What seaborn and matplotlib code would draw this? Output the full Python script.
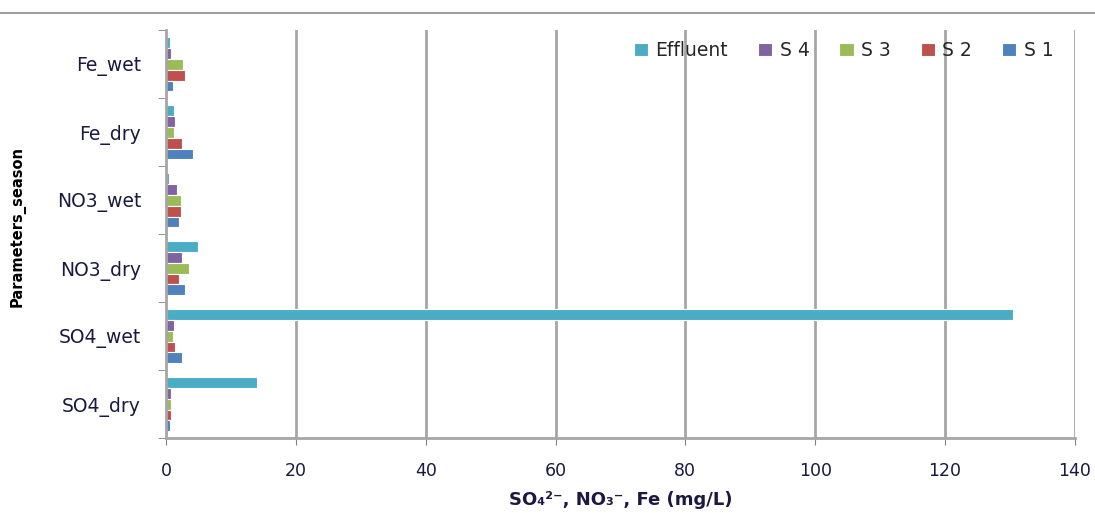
import numpy as np
import pandas as pd
import matplotlib
matplotlib.use('Agg')
import matplotlib.pyplot as plt
import seaborn as sns

# Data (mg/L)
params = ['Fe_wet', 'Fe_dry', 'NO3_wet', 'NO3_dry', 'SO4_wet', 'SO4_dry']
sites = ['Effluent', 'S 4', 'S 3', 'S 2', 'S 1']
effluent = [0.6, 1.3, 0.5, 4.9, 130.5, 14.0]
s4 = [0.7, 1.4, 1.7, 2.5, 1.3, 0.8]
s3 = [2.6, 1.2, 2.3, 3.5, 1.1, 0.8]
s2 = [2.9, 2.5, 2.3, 2.0, 1.4, 0.8]
s1 = [1.1, 4.2, 2.0, 2.9, 2.5, 0.6]
colors = ['#4BACC6', '#8064A2', '#9BBB59', '#C0504D', '#4F81BD']

df = pd.DataFrame({'Parameter': params, 'Effluent': effluent, 'S 4': s4,
                   'S 3': s3, 'S 2': s2, 'S 1': s1})
long_df = df.melt(id_vars='Parameter', var_name='Site', value_name='Value')

sns.set_style('white')
plt.rcParams['font.family'] = ['DejaVu Sans']

fig = plt.figure(figsize=(10.95, 5.13), dpi=100)
ax = fig.add_axes([0.1516, 0.146, 0.830, 0.795])

sns.barplot(data=long_df, x='Value', y='Parameter', hue='Site', order=params,
            hue_order=sites, palette=colors, saturation=1, orient='h',
            width=0.8, edgecolor='white', linewidth=0.8, ax=ax)

ax.set_xlim(0, 140)
ax.set_xticks(np.arange(0, 141, 20))
ax.set_ylim(len(params) - 0.5, -0.5)
for x in range(20, 141, 20):
    ax.axvline(x, color='#a6a6a6', lw=2, zorder=0)

for side in ['top', 'right']:
    ax.spines[side].set_visible(False)
ax.spines['left'].set_color('#a6a6a6')
ax.spines['left'].set_linewidth(2)
ax.spines['bottom'].set_color('#a6a6a6')
ax.spines['bottom'].set_linewidth(2)

ax.set_yticks(np.arange(-0.5, len(params)), minor=True)
ax.tick_params(axis='y', which='minor', length=6, color='#808080', left=True)
ax.tick_params(axis='y', which='major', length=0, pad=18, labelsize=13.5,
               labelcolor='#1a1a40')
ax.tick_params(axis='x', length=5, color='#808080', bottom=True, pad=12,
               labelsize=12.5, labelcolor='#1a1a40')

ax.set_xlabel('SO\u2084\u00b2\u207b, NO\u2083\u207b, Fe (mg/L)', fontsize=13,
              fontweight='bold', color='#1a1a40')
ax.xaxis.set_label_coords(0.5, -0.13)
ax.set_ylabel('Parameters_season', fontsize=10.5, fontweight='bold',
              color='black')
ax.yaxis.set_label_coords(-0.155, 0.52)

handles, labels = ax.get_legend_handles_labels()
ax.legend(handles, labels, loc='upper right', ncol=5, frameon=False,
          bbox_to_anchor=(0.995, 1.015), fontsize=13.5, handlelength=0.75,
          handleheight=0.75, columnspacing=1.6, handletextpad=0.4)

fig.add_artist(plt.Line2D([0.0, 1.0], [0.975, 0.975], color='#a0a0a0', lw=1.5))

fig.savefig('out.png', dpi=100)
